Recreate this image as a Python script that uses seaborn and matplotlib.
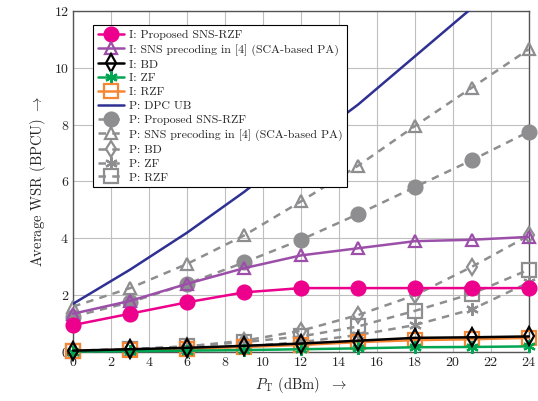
import matplotlib
matplotlib.use("Agg")
import matplotlib.pyplot as plt
import seaborn as sns
import numpy as np
import pandas as pd

# transmit power (dBm)
pt = [0, 3, 6, 9, 12, 15, 18, 21, 24]

# imperfect CSI curves
i_sns_rzf = [0.95, 1.35, 1.75, 2.1, 2.25, 2.25, 2.25, 2.25, 2.25]
i_sns_sca = [1.35, 1.8, 2.4, 2.95, 3.4, 3.65, 3.9, 3.95, 4.05]
i_bd = [0.05, 0.1, 0.15, 0.22, 0.3, 0.4, 0.5, 0.52, 0.55]
i_zf = [0.02, 0.03, 0.05, 0.07, 0.1, 0.13, 0.17, 0.18, 0.2]
i_rzf = [0.05, 0.08, 0.12, 0.18, 0.25, 0.35, 0.42, 0.45, 0.5]

# perfect CSI curves
p_dpc = [1.7, 2.9, 4.2, 5.63, 7.2, 8.7, 10.4, 12.1, 13.9]
p_sns_rzf = [1.25, 1.75, 2.4, 3.15, 3.95, 4.85, 5.8, 6.75, 7.75]
p_sns_sca = [1.6, 2.25, 3.1, 4.1, 5.3, 6.55, 7.95, 9.3, 10.65]
p_bd = [0.05, 0.1, 0.2, 0.4, 0.75, 1.3, 2.0, 3.0, 4.1]
p_zf = [0.02, 0.05, 0.1, 0.2, 0.35, 0.6, 0.95, 1.5, 2.45]
p_rzf = [0.05, 0.1, 0.2, 0.35, 0.55, 0.9, 1.45, 2.05, 2.9]

sns.set_style("whitegrid")
plt.rcParams["font.family"] = "serif"
plt.rcParams["font.serif"] = ["cmr10", "DejaVu Serif"]
plt.rcParams["mathtext.fontset"] = "cm"
plt.rcParams["axes.formatter.use_mathtext"] = True

fig = plt.figure(figsize=(5.38, 4.01), dpi=100)
ax = fig.add_axes([0.136, 0.122, 0.847, 0.851])

magenta = "#EC008C"
purple = "#9B4FA8"
green = "#00A651"
orange = "#F58634"
navy = "#2E3192"
gray = "#8E8E90"
star = (6, 2, 0)
dash = (0, (3, 2.5))

series = [
    # label, data, color, marker, size, filled, linestyle, zorder
    ("I: Proposed SNS-RZF", i_sns_rzf, magenta, "o", 10, True, "-", 6),
    ("I: SNS precoding in [4] (SCA-based PA)", i_sns_sca, purple, "^", 9, False, "-", 5),
    ("I: BD", i_bd, "black", "d", 9, False, "-", 7),
    ("I: ZF", i_zf, green, star, 9, False, "-", 6),
    ("I: RZF", i_rzf, orange, "s", 10, False, "-", 5),
    ("P: DPC UB", p_dpc, navy, None, 0, False, "-", 4),
    ("P: Proposed SNS-RZF", p_sns_rzf, gray, "o", 10, True, dash, 3),
    ("P: SNS precoding in [4] (SCA-based PA)", p_sns_sca, gray, "^", 9, False, dash, 3),
    ("P: BD", p_bd, gray, "d", 8, False, dash, 3),
    ("P: ZF", p_zf, gray, star, 9, False, dash, 3),
    ("P: RZF", p_rzf, gray, "s", 10, False, dash, 3),
]

for name, vals, col, mk, ms, filled, ls, z in series:
    df = pd.DataFrame({"pt": pt, "wsr": vals})
    kw = dict(color=col, linewidth=1.8, linestyle=ls, label=name, zorder=z, clip_on=(mk is None))
    if mk is not None:
        kw.update(marker=mk, markersize=ms, markeredgecolor=col, markeredgewidth=1.6,
                  markerfacecolor=col if filled else "none")
    sns.lineplot(data=df, x="pt", y="wsr", ax=ax, **kw)

ax.set_xlim(0, 24)
ax.set_ylim(0, 12)
ax.set_xticks(np.arange(0, 25, 2))
ax.set_yticks(np.arange(0, 13, 2))
ax.tick_params(labelsize=10, direction="in", length=3, pad=3)
ax.grid(color="#BFBFBF", linewidth=0.8)
for s in ax.spines.values():
    s.set_color("#555555")
    s.set_linewidth(1.0)

ax.set_xlabel(r"$P_\mathrm{T}$ (dBm)  $\rightarrow$", fontsize=10.5)
ax.set_ylabel(r"Average WSR (BPCU) $\rightarrow$", fontsize=10.5)

leg = ax.legend(loc="upper left", bbox_to_anchor=(0.03, 0.976), fontsize=8.6, frameon=True,
                fancybox=False, framealpha=1, edgecolor="black", handlelength=2.2,
                labelspacing=0.3, borderpad=0.4, handletextpad=0.4)
leg.get_frame().set_linewidth(0.8)
leg.set_zorder(10)

fig.savefig("out.png", dpi=100)
